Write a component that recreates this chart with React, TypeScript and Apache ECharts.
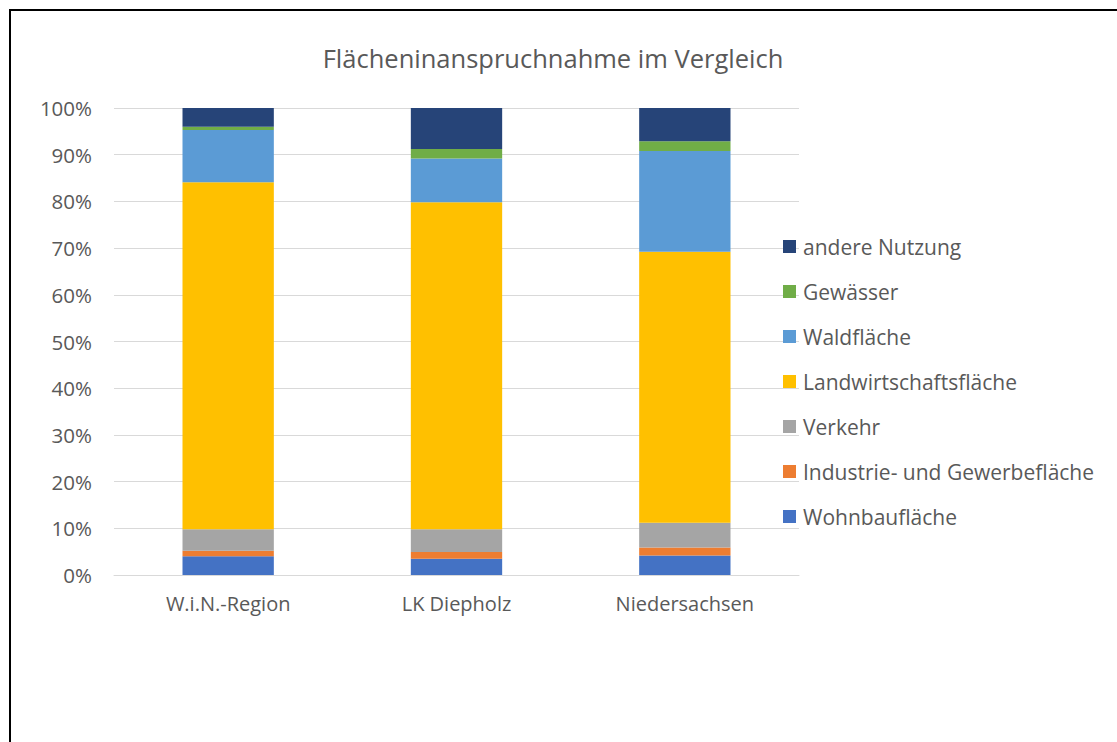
import React, { useEffect, useRef } from "react";
import * as echarts from "echarts";

const categories = ["W.i.N.-Region", "LK Diepholz", "Niedersachsen"];
const wohnbau = [4.0, 3.5, 4.2];
const industrie = [1.2, 1.4, 1.7];
const verkehr = [4.6, 4.9, 5.3];
const landwirtschaft = [74.3, 70.0, 58.0];
const wald = [11.2, 9.4, 21.6];
const gewaesser = [0.7, 2.0, 2.1];
const andere = [4.0, 8.8, 7.1];

const seriesNames = [
  "Wohnbaufläche",
  "Industrie- und Gewerbefläche",
  "Verkehr",
  "Landwirtschaftsfläche",
  "Waldfläche",
  "Gewässer",
  "andere Nutzung",
];
const seriesData = [wohnbau, industrie, verkehr, landwirtschaft, wald, gewaesser, andere];
const colors = ["#4472C4", "#ED7D31", "#A5A5A5", "#FFC000", "#5B9BD5", "#70AD47", "#264478"];

const FONT = "Open Sans";
const TEXT = "#595959";

export default function App() {
  const ref = useRef<HTMLDivElement>(null);
  useEffect(() => {
    if (!ref.current) return;
    const chart = echarts.init(ref.current, null, { renderer: "svg" });
    chart.setOption({
      animation: false,
      title: {
        text: "Flächeninanspruchnahme im Vergleich",
        left: 548,
        textAlign: "center",
        top: 40,
        textStyle: { fontFamily: FONT, fontSize: 25.5, fontWeight: "normal", color: TEXT },
      },
      legend: {
        orient: "vertical",
        left: 783,
        top: 236,
        padding: 0,
        itemWidth: 13,
        itemHeight: 13,
        itemGap: 24,
        icon: "rect",
        data: seriesNames.slice().reverse(),
        textStyle: { fontFamily: FONT, fontSize: 21, color: TEXT, lineHeight: 20, padding: [0, 0, 0, 2] },
      },
      grid: { left: 114, right: 318, top: 108, bottom: 167, containLabel: false },
      xAxis: {
        type: "category",
        data: categories,
        axisLine: { show: true, lineStyle: { color: "#D9D9D9", width: 1 } },
        axisTick: { show: false },
        axisLabel: { fontFamily: FONT, fontSize: 20, color: TEXT, margin: 18 },
      },
      yAxis: {
        type: "value",
        min: 0,
        max: 100,
        interval: 10,
        axisLine: { show: false },
        axisTick: { show: false },
        splitLine: { lineStyle: { color: "#D9D9D9", width: 1 } },
        axisLabel: { fontFamily: FONT, fontSize: 20.5, color: TEXT, margin: 22, formatter: "{value}%" },
      },
      series: seriesNames.map((name, i) => ({
        name,
        type: "bar",
        stack: "total",
        barWidth: "40%",
        data: seriesData[i],
        itemStyle: { color: colors[i] },
      })),
      graphic: [
        {
          type: "rect",
          shape: { x: 10, y: 10, width: 1300, height: 900 },
          style: { fill: "none", stroke: "#000", lineWidth: 2 },
          silent: true,
        },
      ],
    });
    return () => chart.dispose();
  }, []);
  return (
    <div
      ref={ref}
      style={{ position: "absolute", left: 0, top: 0, width: 1117, height: 742, background: "#fff" }}
    />
  );
}
